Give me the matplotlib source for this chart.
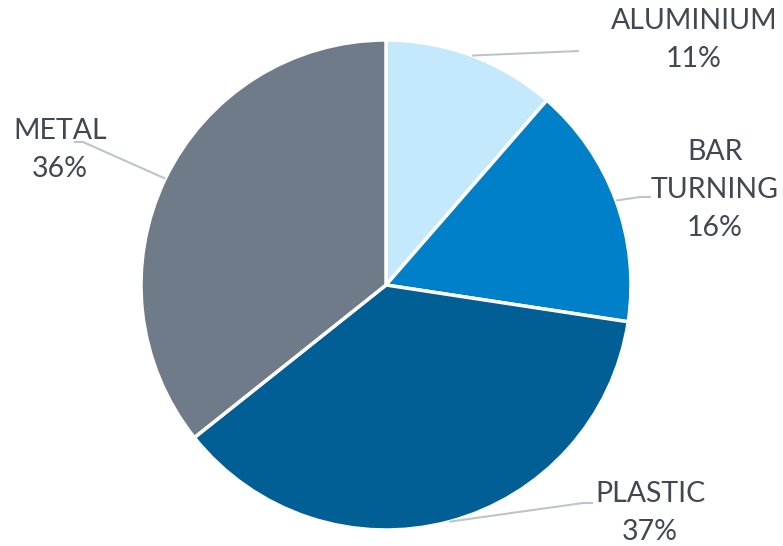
import numpy as np
import matplotlib
matplotlib.use("Agg")
import matplotlib.pyplot as plt

labels = ["ALUMINIUM", "BAR\nTURNING", "PLASTIC", "METAL"]
values = [11.4, 16.0, 36.9, 35.7]
colors = ["#C5E9FC", "#0080C9", "#025F95", "#707B8A"]

W, H = 783, 546
cx, cy, R = 386, 285, 245

plt.rcParams['font.family'] = ['Lato', 'DejaVu Sans']

fig = plt.figure(figsize=(W / 100, H / 100), dpi=100)
ax = fig.add_axes([0, 0, 1, 1])

ax.pie(values, colors=colors, startangle=90, counterclock=False,
       center=(cx, H - cy), radius=R,
       wedgeprops=dict(edgecolor="white", linewidth=2.5))
ax.set_xlim(0, W)
ax.set_ylim(0, H)
ax.set_aspect("equal")
ax.axis("off")

# label placement (pixel coords, y down) and leader elbows
text_pos = [(694, 40), (715, 190), (650, 513), (60, 150)]
elbows = [[(579, 51)], [(640, 197), (651, 197)], [(583, 503), (593, 503)], [(83, 142), (74, 142)]]

total = sum(values)
cum = 0
for lab, v, (tx, ty), elb in zip(labels, values, text_pos, elbows):
    mid = (cum + v / 2) / total * 2 * np.pi
    cum += v
    sx = cx + R * np.sin(mid)
    sy = cy - R * np.cos(mid)
    pts = [(sx, sy)] + elb
    xs = [p[0] for p in pts]
    ys = [H - p[1] for p in pts]
    ax.plot(xs, ys, color="#BFC4CB", lw=1.5, solid_capstyle="butt")
    ax.text(tx, H - ty, "%s\n%.0f%%" % (lab, v / total * 100), ha="center", va="center",
            multialignment="center", fontsize=20.5, color="#404852",
            linespacing=1.55)

fig.savefig("out.png", dpi=100)
